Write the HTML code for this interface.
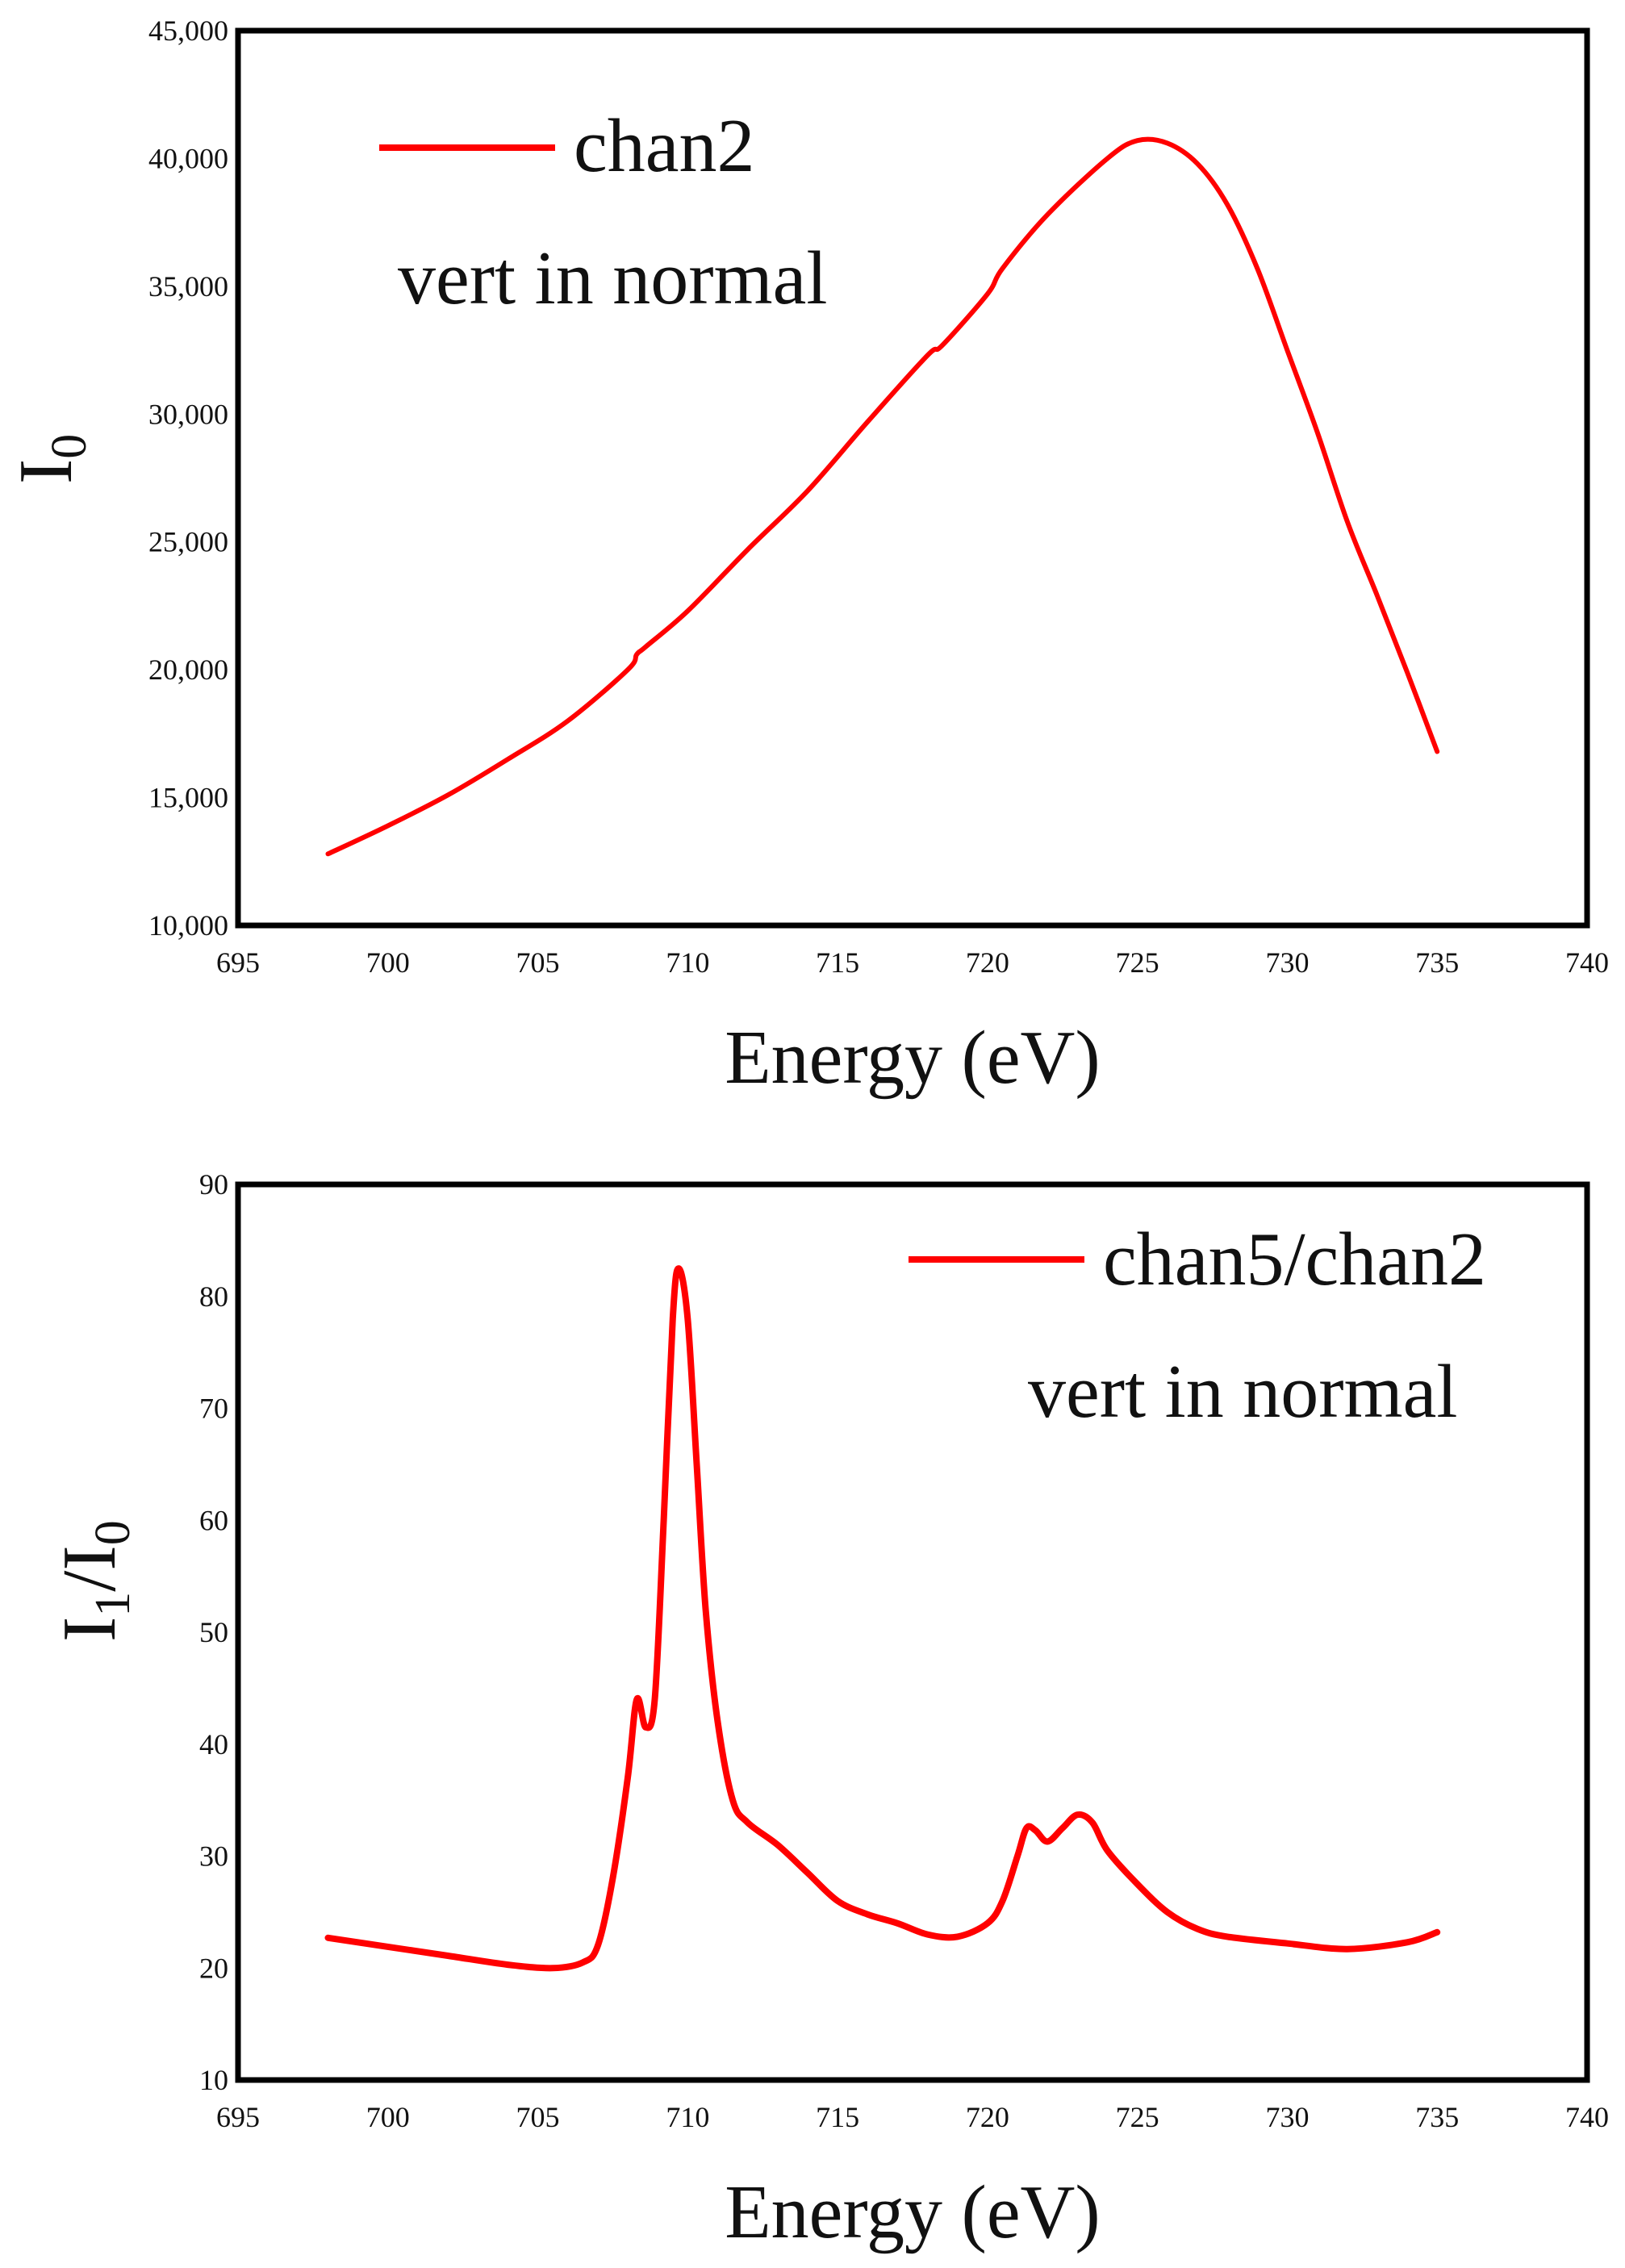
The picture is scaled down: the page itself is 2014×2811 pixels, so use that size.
<!DOCTYPE html>
<html><head><meta charset="utf-8"><style>
html,body{margin:0;padding:0;background:#fff;}
svg{display:block;}
text{font-family:"Liberation Serif",serif;fill:#111;}
</style></head><body>
<svg id="fig" width="2014" height="2811" viewBox="0 0 2014 2811">
<g id="top"></g>
<g id="bot"></g>
</svg>
<script>
const topX = [698,700,702,704,706,708,708.3,708.6,710,712,714,716,718,718.5,720,720.5,722,724,725,726,727,728,729,730,731,732,733,734,735];
const topY = [12800,13900,15100,16500,18000,20000,20600,20900,22300,24700,27000,29700,32300,32700,34700,35700,37800,40000,40700,40600,39800,38200,35700,32500,29300,25800,22900,19900,16800];
const botX = [698,700,702,704,705.5,706.5,707,707.5,708,708.3,708.6,708.9,709.2,709.5,709.7,710,710.3,710.6,711,711.5,712,713,714,715,716,717,718,719,720,720.5,721,721.3,721.6,722,722.5,723,723.5,724,725,726,727,728,730,732,734,735];
const botY = [22.7,21.9,21.1,20.3,20.0,20.5,22,28,37,44,41.5,44,60,78,82.5,78,65,52,42,35,33,31,28.5,26,24.8,24,23,22.8,24,26,30,32.5,32.3,31.3,32.5,33.7,33,30.5,27.5,25,23.5,22.8,22.2,21.7,22.3,23.2];
const xTicks = [695,700,705,710,715,720,725,730,735,740];
const topYTicks = [10000,15000,20000,25000,30000,35000,40000,45000];
const botYTicks = [10,20,30,40,50,60,70,80,90];

const NS="http://www.w3.org/2000/svg";
function mk(parent,tag,attrs,txt){const e=document.createElementNS(NS,tag);for(const k in attrs)e.setAttribute(k,attrs[k]);if(txt!==undefined)e.textContent=txt;parent.appendChild(e);return e;}

function smoothPath(pts){
  let d='M'+pts[0][0].toFixed(1)+','+pts[0][1].toFixed(1);
  for(let i=0;i<pts.length-1;i++){
    const p0=pts[i-1]||pts[i],p1=pts[i],p2=pts[i+1],p3=pts[i+2]||p2;
    const c1x=p1[0]+(p2[0]-p0[0])/6,c1y=p1[1]+(p2[1]-p0[1])/6;
    const c2x=p2[0]-(p3[0]-p1[0])/6,c2y=p2[1]-(p3[1]-p1[1])/6;
    d+='C'+c1x.toFixed(1)+','+c1y.toFixed(1)+' '+c2x.toFixed(1)+','+c2y.toFixed(1)+' '+p2[0].toFixed(1)+','+p2[1].toFixed(1);
  }
  return d;
}

function chart(g,cfg){
  const L=295,R=1967,T=cfg.top,B=cfg.bottom;
  const sx=v=>L+(v-695)/(740-695)*(R-L);
  const sy=v=>B-(v-cfg.ymin)/(cfg.ymax-cfg.ymin)*(B-T);
  xTicks.forEach(t=>{
    const e=mk(g,'text',{x:sx(t),y:B+58,'text-anchor':'middle','font-size':36,fill:'#333'},t);
    
    
  });
  cfg.yTicks.forEach(t=>{
    const e=mk(g,'text',{x:283,y:sy(t)+12,'text-anchor':'end','font-size':36,fill:'#333'},cfg.fmt(t));
    
    
  });
  const pts=cfg.xs.map((x,i)=>[sx(x),sy(cfg.ys[i])]);
  const p=mk(g,'path',{d:smoothPath(pts),fill:'none',stroke:'#ff0000','stroke-width':cfg.sw,'stroke-linejoin':'round','stroke-linecap':'round'});
  
  
  const f=mk(g,'rect',{x:L,y:T,width:R-L,height:B-T,fill:'none',stroke:'#000','stroke-width':7});
  
  
  const xt=mk(g,'text',{x:1131,y:B+195,'text-anchor':'middle','font-size':94},'Energy (eV)');
  
  
}

const gt=document.getElementById('top');
chart(gt,{top:38,bottom:1147,ymin:10000,ymax:45000,yTicks:topYTicks,xs:topX,ys:topY,sw:6,fmt:t=>t.toLocaleString('en-US')});
const gb=document.getElementById('bot');
chart(gb,{top:1468,bottom:2578,ymin:10,ymax:90,yTicks:botYTicks,xs:botX,ys:botY,sw:8,fmt:t=>String(t)});

let e;
e=mk(gt,'line',{x1:470,y1:183,x2:688,y2:183,stroke:'#ff0000','stroke-width':8});


e=mk(gt,'text',{x:711,y:212,'font-size':94},'chan2');


e=mk(gt,'text',{x:493,y:376,'font-size':94},'vert in normal');


e=mk(gt,'text',{x:0,y:0,'font-size':94,transform:'translate(88,600) rotate(-90)'});


e.innerHTML='I<tspan font-size="62" dy="18">0</tspan>';

e=mk(gb,'line',{x1:1126,y1:1561,x2:1344,y2:1561,stroke:'#ff0000','stroke-width':8});


e=mk(gb,'text',{x:1367,y:1592,'font-size':94},'chan5/chan2');


e=mk(gb,'text',{x:1274,y:1756,'font-size':94},'vert in normal');


e=mk(gb,'text',{x:0,y:0,'font-size':94,transform:'translate(142,2035) rotate(-90)'});


e.innerHTML='I<tspan font-size="62" dy="18">1</tspan><tspan dy="-18">/I</tspan><tspan font-size="62" dy="18">0</tspan>';
</script>
</body></html>
